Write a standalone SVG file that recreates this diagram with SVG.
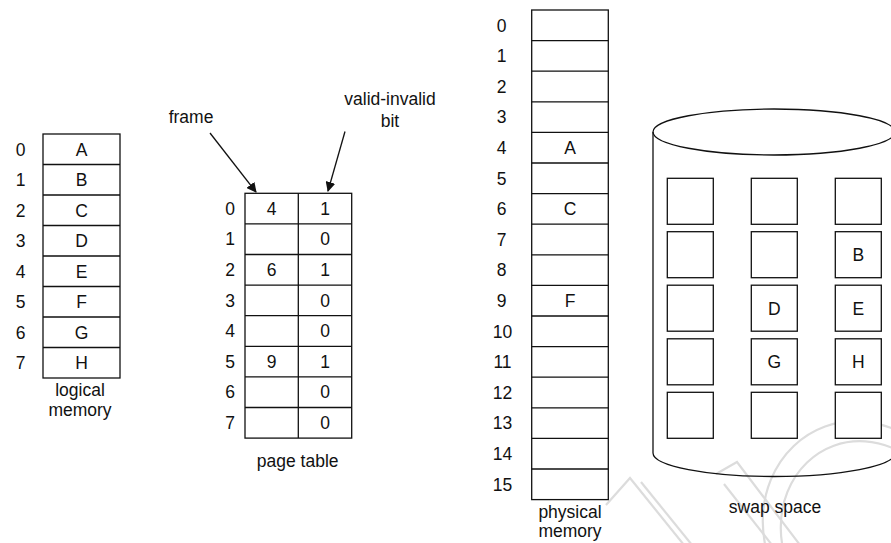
<svg xmlns="http://www.w3.org/2000/svg" width="891" height="543" viewBox="0 0 891 543">
<defs>
<style>
.t{font-family:"Liberation Sans",Arial,sans-serif;font-size:17.5px;fill:#111;text-anchor:middle}
.cell{fill:#fff;stroke:#111;stroke-width:1.3}
.ln{stroke:#111;stroke-width:1.3;fill:none}
.wm{fill:none;stroke:#dcdcdc;stroke-width:2.2}
</style>
<marker id="ah" viewBox="0 0 10 10" refX="9" refY="5" markerWidth="10" markerHeight="10" markerUnits="userSpaceOnUse" orient="auto">
<path d="M0,0 L10,5 L0,10 z" fill="#111"/>
</marker>
</defs>
<rect width="891" height="543" fill="#fff"/>

<g id="watermark">
<path class="wm" d="M606,505 L630,478 L684,545"/>
<path class="wm" d="M641,482 L692,545"/>
<path class="wm" d="M716,474 L737,462 L800,545"/>
<path class="wm" d="M724,484 L772,545"/>
<ellipse class="wm" cx="862" cy="528" rx="98" ry="108" transform="rotate(-20 862 528)"/>
<ellipse class="wm" cx="866" cy="534" rx="84" ry="94" transform="rotate(-20 866 534)"/>
</g>

<g id="logical-memory">
<rect class="cell" x="43" y="134" width="77" height="244"/>
<path class="ln" d="M43,164.5H120M43,195H120M43,225.5H120M43,256H120M43,286.5H120M43,317H120M43,347.5H120"/>
<text class="t" x="20.5" y="155.5">0</text><text class="t" x="81.5" y="155.5">A</text>
<text class="t" x="20.5" y="186">1</text><text class="t" x="81.5" y="186">B</text>
<text class="t" x="20.5" y="216.5">2</text><text class="t" x="81.5" y="216.5">C</text>
<text class="t" x="20.5" y="247">3</text><text class="t" x="81.5" y="247">D</text>
<text class="t" x="20.5" y="277.5">4</text><text class="t" x="81.5" y="277.5">E</text>
<text class="t" x="20.5" y="308">5</text><text class="t" x="81.5" y="308">F</text>
<text class="t" x="20.5" y="338.5">6</text><text class="t" x="81.5" y="338.5">G</text>
<text class="t" x="20.5" y="369">7</text><text class="t" x="81.5" y="369">H</text>
<text class="t" x="80" y="396">logical</text>
<text class="t" x="80" y="416">memory</text>
</g>

<g id="page-table">
<rect class="cell" x="245" y="193.3" width="106.7" height="244.8"/>
<path class="ln" d="M298.3,193.3V438.1M245,223.9H351.7M245,254.5H351.7M245,285.1H351.7M245,315.7H351.7M245,346.3H351.7M245,376.9H351.7M245,407.5H351.7"/>
<text class="t" x="230" y="214.8">0</text><text class="t" x="271.6" y="214.8">4</text><text class="t" x="325" y="214.8">1</text>
<text class="t" x="230" y="245.4">1</text><text class="t" x="325" y="245.4">0</text>
<text class="t" x="230" y="276">2</text><text class="t" x="271.6" y="276">6</text><text class="t" x="325" y="276">1</text>
<text class="t" x="230" y="306.6">3</text><text class="t" x="325" y="306.6">0</text>
<text class="t" x="230" y="337.2">4</text><text class="t" x="325" y="337.2">0</text>
<text class="t" x="230" y="367.8">5</text><text class="t" x="271.6" y="367.8">9</text><text class="t" x="325" y="367.8">1</text>
<text class="t" x="230" y="398.4">6</text><text class="t" x="325" y="398.4">0</text>
<text class="t" x="230" y="429">7</text><text class="t" x="325" y="429">0</text>
<text class="t" x="297.7" y="466.5">page table</text>
</g>

<g id="frame-label">
<text class="t" x="191" y="123">frame</text>
</g>
<g id="valid-invalid-label">
<text class="t" x="390" y="104.5">valid-invalid</text>
<text class="t" x="390" y="126.5">bit</text>
</g>

<g id="connectors">
<line class="ln" x1="210" y1="133" x2="256" y2="192" marker-end="url(#ah)"/>
<line class="ln" x1="345" y1="131.5" x2="328" y2="191" marker-end="url(#ah)"/>
</g>

<g id="physical-memory">
<rect class="cell" x="531.7" y="10" width="76.6" height="489.6"/>
<path class="ln" d="M531.7,40.6H608.3M531.7,71.2H608.3M531.7,101.8H608.3M531.7,132.4H608.3M531.7,163H608.3M531.7,193.6H608.3M531.7,224.2H608.3M531.7,254.8H608.3M531.7,285.4H608.3M531.7,316H608.3M531.7,346.6H608.3M531.7,377.2H608.3M531.7,407.8H608.3M531.7,438.4H608.3M531.7,469H608.3"/>
<text class="t" x="501.5" y="31.5">0</text>
<text class="t" x="501.5" y="62.1">1</text>
<text class="t" x="501.5" y="92.7">2</text>
<text class="t" x="501.5" y="123.3">3</text>
<text class="t" x="501.5" y="153.9">4</text><text class="t" x="570" y="153.9">A</text>
<text class="t" x="501.5" y="184.5">5</text>
<text class="t" x="501.5" y="215.1">6</text><text class="t" x="570" y="215.1">C</text>
<text class="t" x="501.5" y="245.7">7</text>
<text class="t" x="501.5" y="276.3">8</text>
<text class="t" x="501.5" y="306.9">9</text><text class="t" x="570" y="306.9">F</text>
<text class="t" x="502.5" y="337.5">10</text>
<text class="t" x="502.5" y="368.1">11</text>
<text class="t" x="502.5" y="398.7">12</text>
<text class="t" x="502.5" y="429.3">13</text>
<text class="t" x="502.5" y="459.9">14</text>
<text class="t" x="502.5" y="490.5">15</text>
<text class="t" x="570" y="518">physical</text>
<text class="t" x="570" y="537">memory</text>
</g>

<g id="swap-space">
<path class="ln" d="M653,132V453A121,23.5 0 0 0 895,453V132"/>
<ellipse class="ln" cx="774" cy="132" rx="121" ry="23"/>
<g class="cell">
<rect x="667.3" y="178.3" width="46" height="46"/><rect x="751.3" y="178.3" width="46" height="46"/><rect x="835.3" y="178.3" width="46" height="46"/>
<rect x="667.3" y="231.7" width="46" height="46"/><rect x="751.3" y="231.7" width="46" height="46"/><rect x="835.3" y="231.7" width="46" height="46"/>
<rect x="667.3" y="285.2" width="46" height="46"/><rect x="751.3" y="285.2" width="46" height="46"/><rect x="835.3" y="285.2" width="46" height="46"/>
<rect x="667.3" y="338.8" width="46" height="46"/><rect x="751.3" y="338.8" width="46" height="46"/><rect x="835.3" y="338.8" width="46" height="46"/>
<rect x="667.3" y="392.3" width="46" height="46"/><rect x="751.3" y="392.3" width="46" height="46"/><rect x="835.3" y="392.3" width="46" height="46"/>
</g>
<text class="t" x="858.3" y="261">B</text>
<text class="t" x="774.3" y="314.5">D</text>
<text class="t" x="858.3" y="314.5">E</text>
<text class="t" x="774.3" y="368">G</text>
<text class="t" x="858.3" y="368">H</text>
<text class="t" x="775" y="513">swap space</text>
</g>
</svg>
